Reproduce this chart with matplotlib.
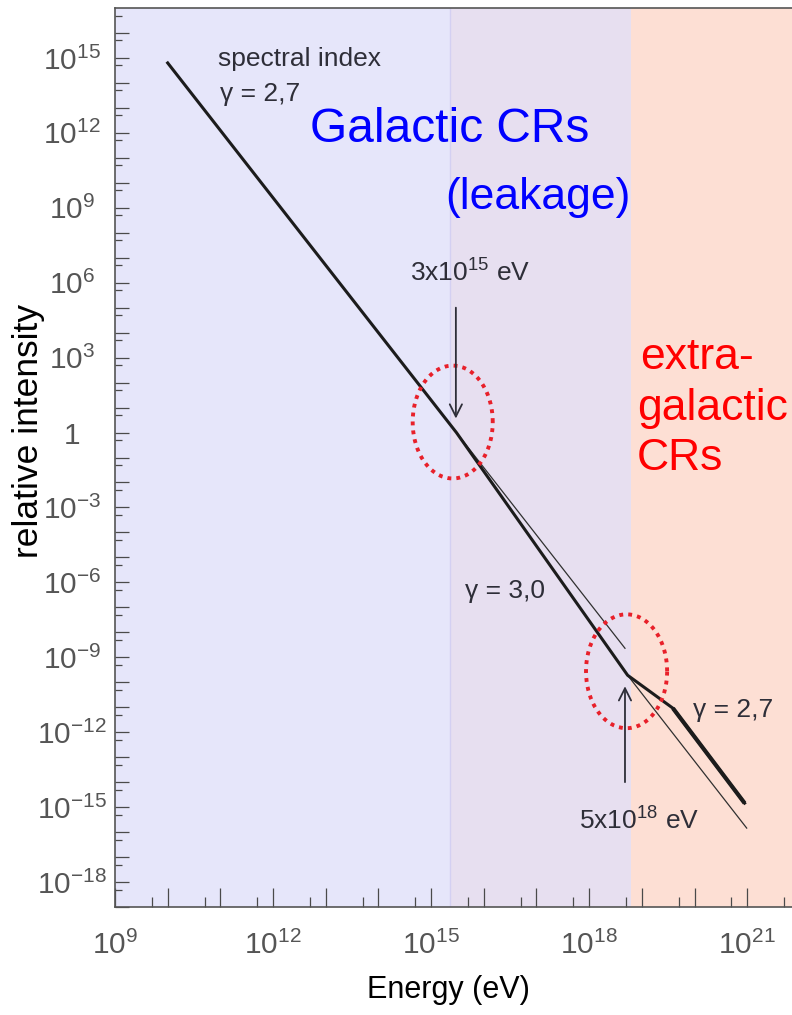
import numpy as np
import matplotlib
matplotlib.use("Agg")
import matplotlib.pyplot as plt
from matplotlib.ticker import FixedLocator, FixedFormatter, NullFormatter

plt.rcParams["font.family"] = ["Liberation Sans", "DejaVu Sans"]
plt.rcParams["mathtext.fontset"] = "custom"
plt.rcParams["mathtext.rm"] = "Liberation Sans"
plt.rcParams["mathtext.default"] = "regular"

# cosmic ray spectrum (log10 E in eV, log10 relative intensity)
main_logE = [10.0, 15.48, 18.73, 19.59, 20.95]
main_logI = [14.8, 0.0, -9.72, -11.04, -14.84]
ext27_logE = [15.48, 18.68]   # gamma=2.7 carried on past the knee
ext27_logI = [0.0, -8.64]
ext30_logE = [18.73, 20.99]   # gamma=3.0 carried on past the ankle
ext30_logI = [-9.72, -15.84]

# shaded bands (log10 E)
band_edges = [9.0, 15.36, 18.8, 21.85]
band_colors = ["#e6e6fa", "#e7dff0", "#fddfd4"]

# dotted rings round knee and ankle: centre and half sizes in decades
ring_logE = [15.41, 18.71]
ring_logI = [0.42, -9.56]
ring_rE = [0.76, 0.77]
ring_rI = [2.26, 2.28]

# arrows: log10 E, tail and tip log10 I
arrow_logE = [15.47, 18.68]
arrow_tail = [5.0, -14.0]
arrow_tip = [0.56, -10.16]

x_decades = list(range(9, 22))
x_labelled = [9, 12, 15, 18, 21]
y_decades = list(range(-19, 17))
y_labelled = [15, 12, 9, 6, 3, 0, -3, -6, -9, -12, -15, -18]

INK = "#2e2e38"
TICK = "#4a4a4a"


def pw(v):
    return np.power(10.0, np.asarray(v, dtype=float))


def lbl(n):
    return "1" if n == 0 else f"$10^{{{n}}}$"


fig = plt.figure(figsize=(7.92, 10.15), dpi=100)
ax = fig.add_axes([115 / 792, 108 / 1015, 677 / 792, 899 / 1015])
ax.set_xscale("log")
ax.set_yscale("log")
ax.set_xlim(pw(band_edges[0]), pw(band_edges[-1]))
ax.set_ylim(1e-19, 1e17)

for lo, hi, c in zip(band_edges[:-1], band_edges[1:], band_colors):
    ax.axvspan(pw(lo), pw(hi), color=c, lw=0, zorder=0)
ax.axvline(pw(band_edges[1]), color="#d4d0f2", lw=1, zorder=0.5)

# spectrum
ax.plot(pw(ext27_logE), pw(ext27_logI), color="#303030", lw=0.9, zorder=3)
ax.plot(pw(ext30_logE), pw(ext30_logI), color="#303030", lw=0.9, zorder=3)
ax.plot(pw(main_logE), pw(main_logI), color="#1c1c1c", lw=2.2, zorder=4,
        solid_joinstyle="round")
ax.plot(pw(main_logE[-2:]), pw(main_logI[-2:]), color="#1c1c1c", lw=3.0, zorder=4,
        solid_capstyle="butt")

# dotted rings
t = np.linspace(0, 2 * np.pi, 300)
for cE, cI, rE, rI in zip(ring_logE, ring_logI, ring_rE, ring_rI):
    ax.plot(pw(cE + rE * np.cos(t)), pw(cI + rI * np.sin(t)), color="#e8202a",
            lw=2.8, ls=(0, (1, 1.3)), zorder=5)

for e, a, b in zip(arrow_logE, arrow_tail, arrow_tip):
    ax.annotate("", xy=(pw(e), pw(b)), xytext=(pw(e), pw(a)),
                arrowprops=dict(arrowstyle="->", color=INK, lw=1.3,
                                mutation_scale=22, shrinkA=0, shrinkB=0),
                zorder=5)

# annotations
ax.text(pw(10.95), pw(14.68), "spectral index", fontsize=19, color=INK, va="baseline")
ax.text(pw(10.99), pw(13.28), "γ = 2,7", fontsize=19, color=INK, va="baseline")
ax.text(pw(14.6), pw(6.04), "3x10$^{15}$ eV", fontsize=19, color=INK, va="baseline")
ax.text(pw(15.64), pw(-6.64), "γ = 3,0", fontsize=19, color=INK, va="baseline")
ax.text(pw(19.97), pw(-11.4), "γ = 2,7", fontsize=19, color=INK, va="baseline")
ax.text(pw(17.8), pw(-15.92), "5x10$^{18}$ eV", fontsize=19, color=INK, va="baseline")

ax.text(pw(12.70), pw(11.64), "Galactic CRs", fontsize=34.5, color="#0000ff", va="baseline")
ax.text(pw(15.26), pw(8.96), "(leakage)", fontsize=32, color="#0000ff", va="baseline")
ax.text(pw(18.96), pw(2.56), "extra-", fontsize=32, color="#ff0000", va="baseline")
ax.text(pw(18.905), pw(0.52), "galactic", fontsize=32, color="#ff0000", va="baseline")
ax.text(pw(18.905), pw(-1.52), "CRs", fontsize=32, color="#ff0000", va="baseline")

# axes and ticks
ax.xaxis.set_major_locator(FixedLocator(pw(x_decades)))
ax.xaxis.set_major_formatter(FixedFormatter([lbl(n) if n in x_labelled else "" for n in x_decades]))
ax.xaxis.set_minor_locator(FixedLocator(5 * pw(x_decades)))
ax.xaxis.set_minor_formatter(NullFormatter())
ax.yaxis.set_major_locator(FixedLocator(pw(y_decades)))
ax.yaxis.set_major_formatter(FixedFormatter([lbl(n) if n in y_labelled else "" for n in y_decades]))
ax.yaxis.set_minor_locator(FixedLocator(5 * pw(list(range(-20, 17)))))
ax.yaxis.set_minor_formatter(NullFormatter())

ax.tick_params(axis="x", which="major", direction="in", length=13.5, width=0.9,
               color=TICK, labelsize=21.5, labelcolor="#555555", pad=17)
ax.tick_params(axis="x", which="minor", direction="in", length=7, width=0.9, color=TICK)
ax.tick_params(axis="y", which="major", direction="in", length=10, width=0.9,
               color=TICK, labelsize=21.5, labelcolor="#555555", pad=31)
ax.tick_params(axis="y", which="minor", direction="in", length=5, width=0.9, color=TICK)
plt.setp(ax.get_yticklabels(), ha="center")

for s in ("left", "bottom", "top"):
    ax.spines[s].set_color("#555555")
    ax.spines[s].set_linewidth(1.2)
ax.spines["right"].set_visible(False)

ax.set_xlabel("Energy (eV)", fontsize=22, va="center")
ax.xaxis.set_label_coords(0.493, -0.092)
ax.set_ylabel("relative intensity", fontsize=25.5, va="center")
ax.yaxis.set_label_coords(-0.1285, 0.53)

fig.savefig("out.png", dpi=100)
